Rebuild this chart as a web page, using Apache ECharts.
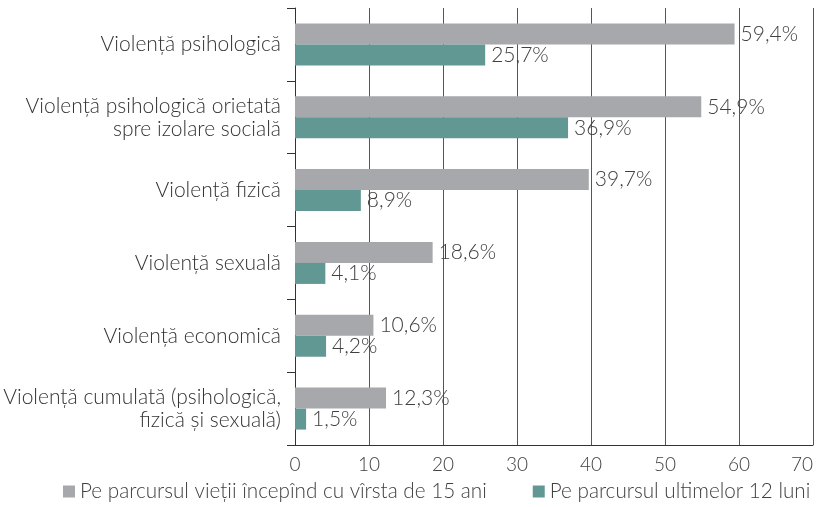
<!DOCTYPE html>
<html lang="ro">
<head>
    <meta charset="UTF-8">
    <title>violenta</title>
    <script type="text/javascript" src="https://cdn.jsdelivr.net/npm/echarts@6/dist/echarts.min.js"></script>
    <style>body{margin:0}</style>
</head>
<body>
    <div id="main" style="width: 820px; height: 507px"></div>
    <script type="text/javascript">
        var categories = [
            'Violență psihologică',
            'Violență psihologică orietată\nspre izolare socială',
            'Violență fizică',
            'Violență sexuală',
            'Violență economică',
            'Violență cumulată (psihologică,\nfizică și sexuală)'
        ];
        var viata = [59.4, 54.9, 39.7, 18.6, 10.6, 12.3];
        var luni12 = [25.7, 36.9, 8.9, 4.1, 4.2, 1.5];
        var xTicks = [0, 10, 20, 30, 40, 50, 60, 70];

        var myChart = echarts.init(document.getElementById('main'));
        var font = 'Lato';
        function pct(p) {
            return String(p.value).replace('.', ',') + '%';
        }

        var option = {
            textStyle: {fontFamily: font},
            animation: false,
            grid: {left: 295, right: 7, top: 8, bottom: 62, outerBoundsMode: 'none'},
            legend: {
                bottom: 0,
                left: 58,
                itemWidth: 12,
                itemHeight: 12,
                itemGap: 46,
                icon: 'rect',
                textStyle: {fontFamily: font, fontSize: 20.7, fontWeight: 300, color: '#404040'}
            },
            xAxis: {
                type: 'value',
                min: xTicks[0],
                max: xTicks[xTicks.length - 1],
                interval: 10,
                axisLine: {show: true, lineStyle: {color: '#333', width: 1}},
                axisTick: {show: false},
                splitLine: {show: true, lineStyle: {color: '#555', width: 1}},
                axisLabel: {fontFamily: font, fontSize: 19, fontWeight: 300, color: '#404040', margin: 10,
                    alignMaxLabel: 'right'}
            },
            yAxis: {
                type: 'category',
                inverse: true,
                data: categories,
                axisLine: {show: true, lineStyle: {color: '#333', width: 1}},
                axisTick: {show: true, length: 8, lineStyle: {color: '#333'}},
                axisLabel: {fontFamily: font, fontSize: 21, fontWeight: 300, color: '#333', margin: 14, lineHeight: 23, align: 'right'}
            },
            series: [
                {
                    name: 'Pe parcursul vieții începînd cu vîrsta de 15 ani',
                    type: 'bar',
                    data: viata,
                    barWidth: 21,
                    barGap: '0%',
                    itemStyle: {color: '#a7a8ab'},
                    label: {show: true, position: 'right', distance: 6, formatter: pct,
                        fontFamily: font, fontSize: 21, fontWeight: 300, color: '#404040'}
                },
                {
                    name: 'Pe parcursul ultimelor 12 luni',
                    type: 'bar',
                    data: luni12,
                    barWidth: 21,
                    itemStyle: {color: '#629893'},
                    label: {show: true, position: 'right', distance: 6, formatter: pct,
                        fontFamily: font, fontSize: 21, fontWeight: 300, color: '#404040'}
                }
            ]
        };
        myChart.setOption(option);
    </script>
</body>
</html>
